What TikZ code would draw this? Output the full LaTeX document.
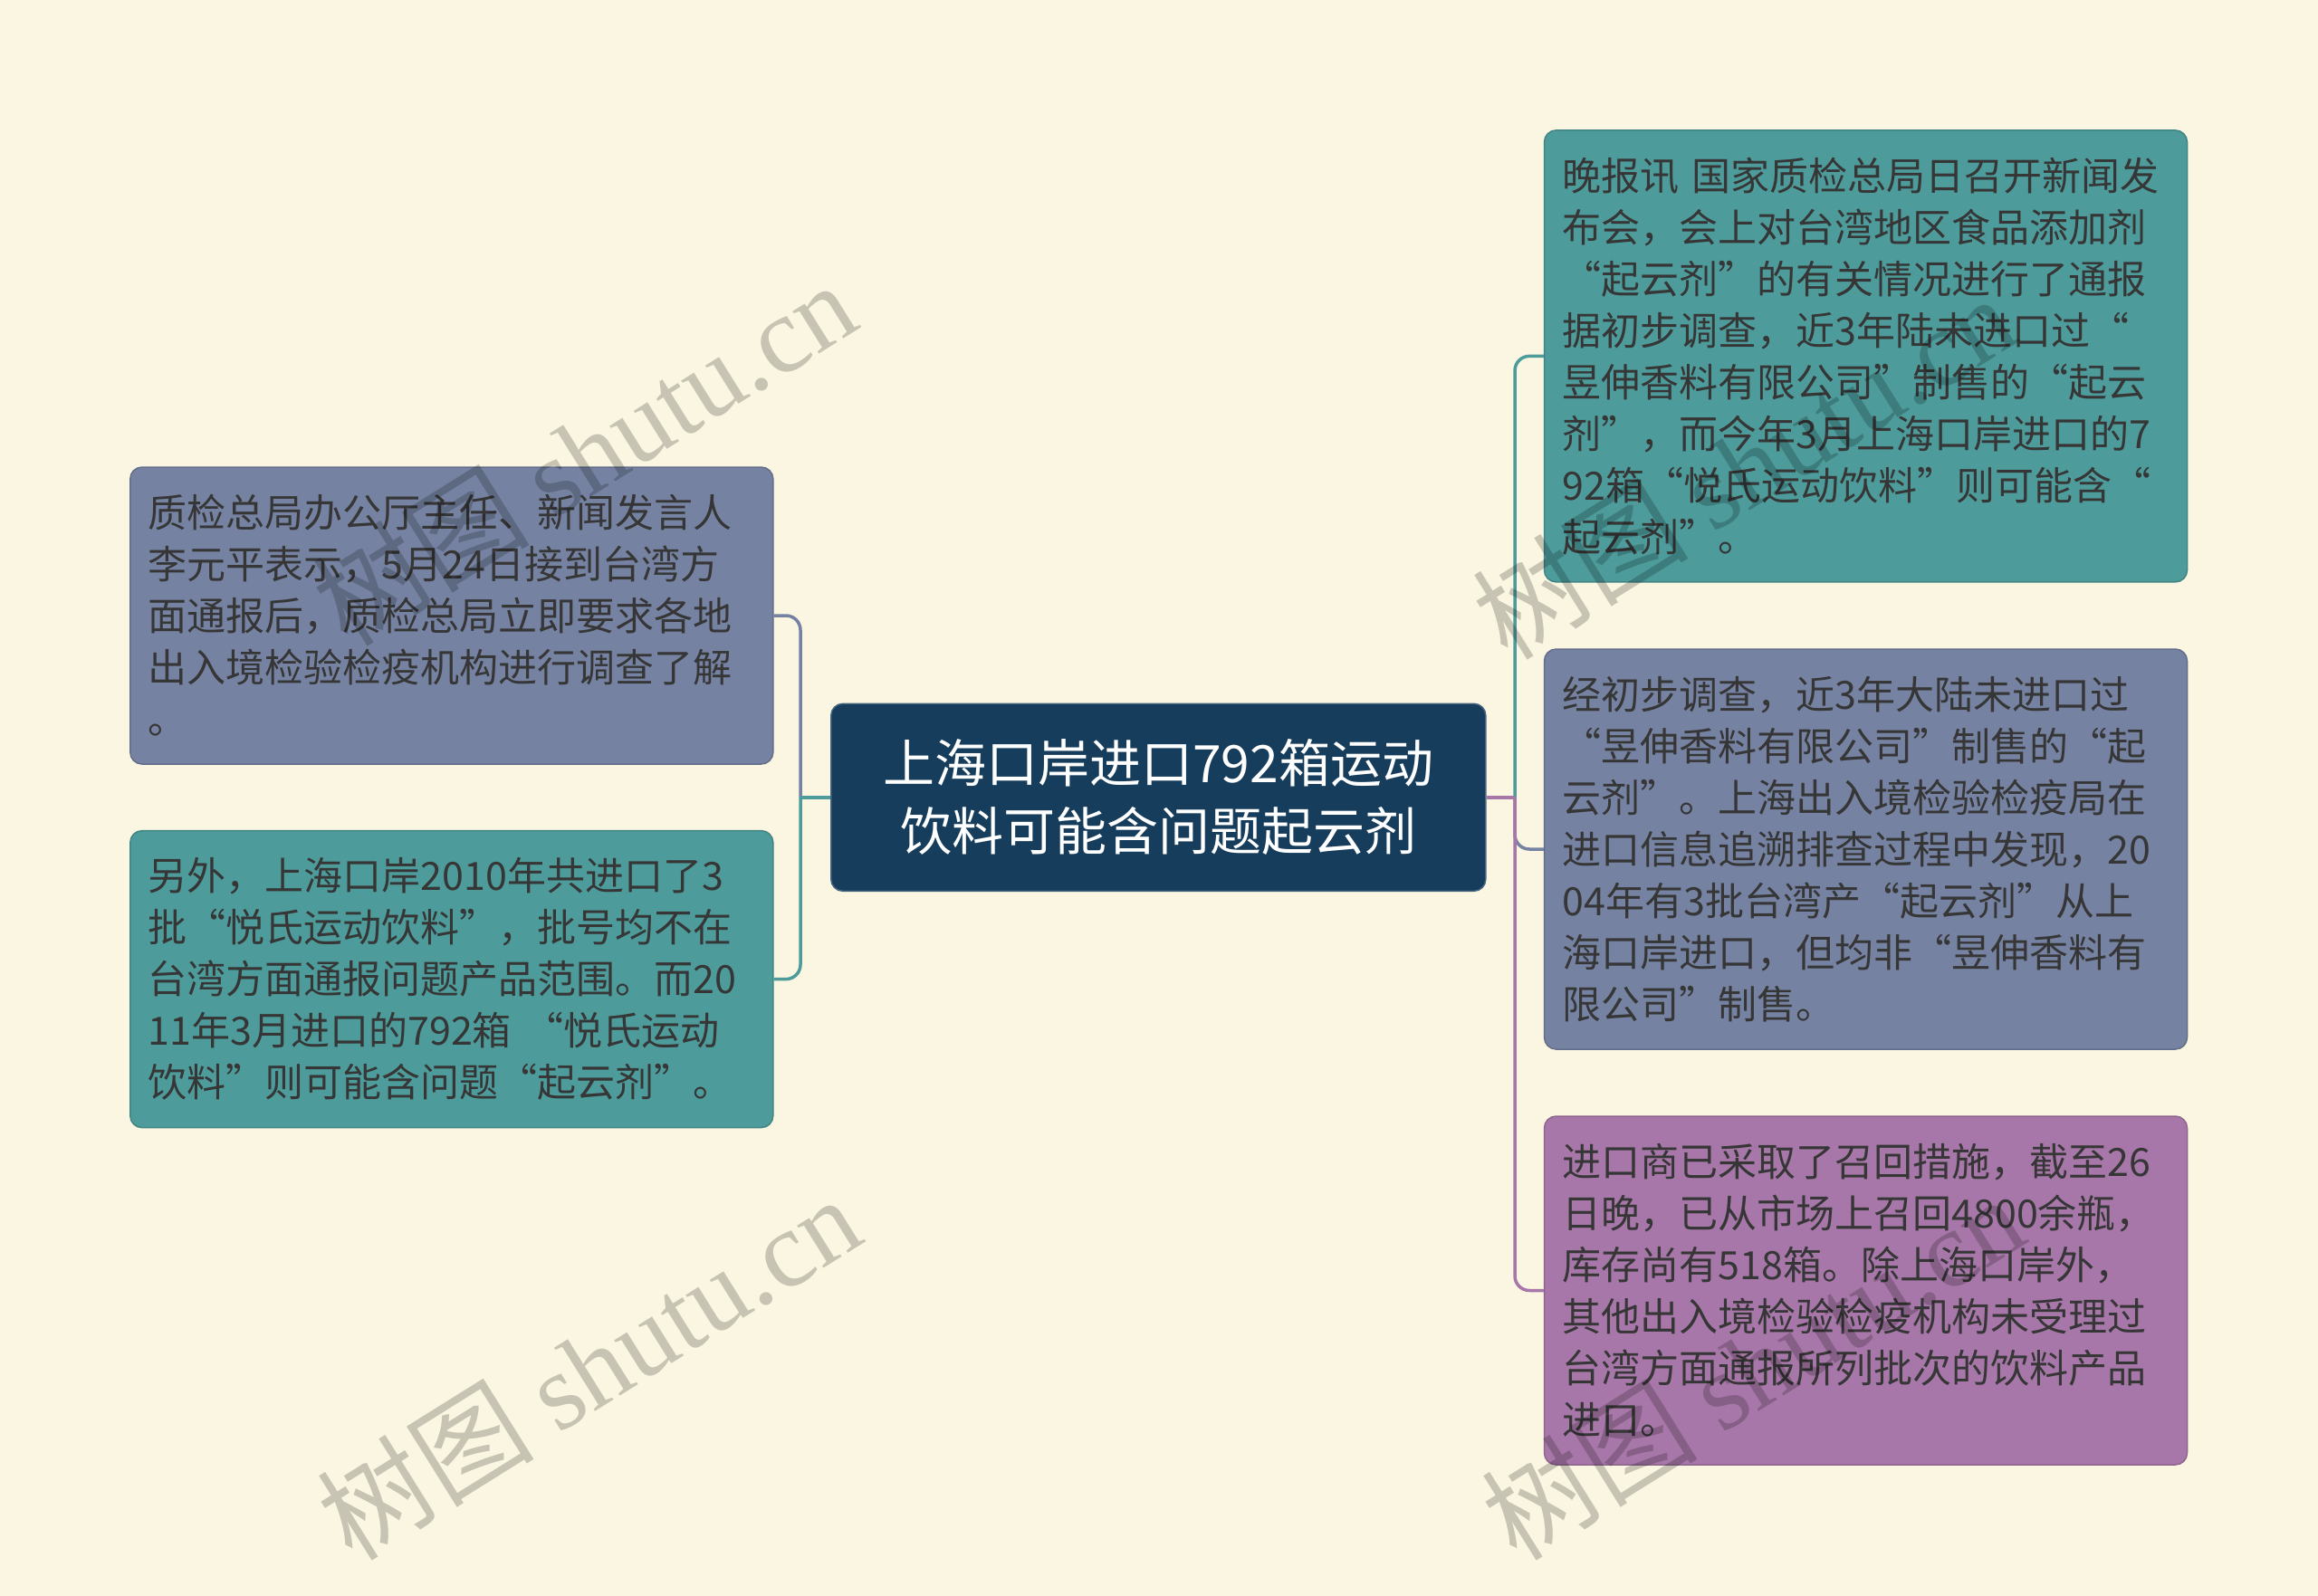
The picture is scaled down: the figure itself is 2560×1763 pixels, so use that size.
\documentclass[tikz,border=0pt]{standalone}
\usepackage{fontspec}
\setmainfont{Noto Sans CJK SC}
\newfontfamily\wmserif{Liberation Serif}
\definecolor{bg}{HTML}{FAF6E1}
\definecolor{cnavy}{HTML}{173D5C}
\definecolor{cteal}{HTML}{4D9C9B}
\definecolor{cgray}{HTML}{7582A2}
\definecolor{cpurple}{HTML}{A877A9}
\definecolor{ctext}{HTML}{363636}
\tikzset{
  leaf/.style={draw=#1!85!black, fill=#1, line width=1.5pt, rounded corners=13pt,
    minimum width=710pt, text width=670pt, inner sep=0pt, align=left, text=ctext,
    font=\fontsize{43}{57}\selectfont},
  root/.style={draw=cnavy!80!white, fill=cnavy, line width=1.5pt, rounded corners=13pt,
    minimum width=723pt, minimum height=207pt, align=center, text=white,
    font=\fontsize{57}{75}\selectfont},
  conn/.style={line width=3.5pt, rounded corners=16pt},
  wm/.style={rotate=32, text=black, opacity=0.2, font=\fontsize{120}{125}\selectfont}
}
\begin{document}
\begin{tikzpicture}[x=1pt,y=1pt]
\useasboundingbox (0,0) rectangle (2560,-1763);
\fill[bg] (0,0) rectangle (2560,-1763);

\node[root] (c) at (1279.3,-880.8) {上海口岸进口792箱运动\\饮料可能含问题起云剂};

\node[leaf=cgray, minimum height=328pt] (l1) at (498.8,-680) {质检总局办公厅主任、新闻发言人\\李元平表示，5月24日接到台湾方\\面通报后，质检总局立即要求各地\\出入境检验检疫机构进行调查了解\\。};
\node[leaf=cteal, minimum height=328pt] (l2) at (498.8,-1081.6) {另外，上海口岸2010年共进口了3\\批“悦氏运动饮料”，批号均不在\\台湾方面通报问题产品范围。而20\\11年3月进口的792箱 “悦氏运动\\饮料”则可能含问题“起云剂”。};

\node[leaf=cteal, minimum height=499pt] (r1) at (2060.5,-393.4) {晚报讯 国家质检总局日召开新闻发\\布会，会上对台湾地区食品添加剂\\“起云剂”的有关情况进行了通报\\据初步调查，近3年陆未进口过“\\昱伸香料有限公司”制售的“起云\\剂”，而今年3月上海口岸进口的7\\92箱“悦氏运动饮料”则可能含“\\起云剂”。};
\node[leaf=cgray, minimum height=442pt] (r2) at (2060.5,-938) {经初步调查，近3年大陆未进口过\\“昱伸香料有限公司”制售的“起\\云剂”。上海出入境检验检疫局在\\进口信息追溯排查过程中发现，20\\04年有3批台湾产“起云剂”从上\\海口岸进口，但均非“昱伸香料有\\限公司”制售。};
\node[leaf=cpurple, minimum height=385pt] (r3) at (2060.5,-1425.5) {进口商已采取了召回措施，截至26\\日晚，已从市场上召回4800余瓶，\\库存尚有518箱。除上海口岸外，\\其他出入境检验检疫机构未受理过\\台湾方面通报所列批次的饮料产品\\进口。};

\coordinate (jl) at (884,-880.8);
\coordinate (jr) at (1673,-880.8);

\draw[conn, cgray] (jl) |- (l1.east);
\draw[conn, cteal] (jl) |- (l2.east);
\draw[conn, cteal] (c.west) -- (jl);

\draw[conn, cteal] (jr) |- (r1.west);
\draw[conn, cgray] (jr) |- (r2.west);
\draw[conn, cpurple] (jr) |- (r3.west);
\draw[conn, cpurple] (c.east) -- (jr);

\node[wm] (w1) at (645,-500) {树图 {\wmserif shutu.cn}};
\node[wm] (w2) at (650,-1510) {树图 {\wmserif shutu.cn}};
\node[wm] (w3) at (1925,-515) {树图 {\wmserif shutu.cn}};
\node[wm] (w4) at (1935,-1510) {树图 {\wmserif shutu.cn}};
\end{tikzpicture}
\end{document}
